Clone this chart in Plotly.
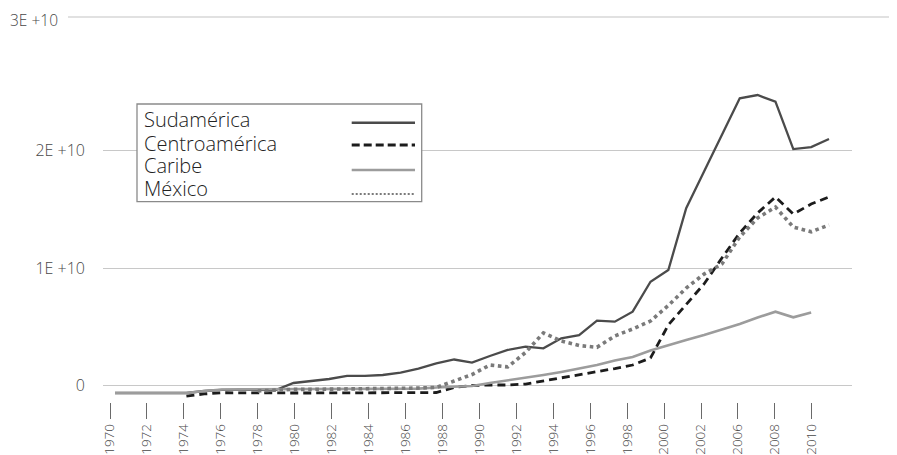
import plotly.graph_objects as go

years = list(range(1970, 2011))

# Values in billions (1e9)
sudamerica = [-0.62, -0.62, -0.62, -0.62, -0.62, -0.45, -0.35, -0.35, -0.35, -0.37,
              0.23, 0.37, 0.57, 0.83, 0.83, 0.91, 1.12, 1.46, 1.89, 2.23,
              1.97, 2.53, 3.04, 3.32, 3.18, 4.03, 4.31, 5.53, 5.45, 6.30,
              8.85, 9.85, 15.10, 18.23, 21.34, 24.46, 24.74, 24.17, 20.14, 20.31,
              21.00]
centroamerica = [None, None, None, None, -0.88, -0.70, -0.60, -0.62, -0.62, -0.62,
                 -0.62, -0.62, -0.62, -0.62, -0.62, -0.62, -0.62, -0.62, -0.58, -0.15,
                 0.02, 0.06, 0.06, 0.14, 0.40, 0.70, 0.90, 1.17, 1.46, 1.76,
                 2.36, 5.17, 6.87, 8.66, 10.87, 13.00, 14.70, 16.06, 14.60, 15.46,
                 16.06]
caribe = [-0.62, -0.62, -0.62, -0.62, -0.62, -0.45, -0.32, -0.31, -0.31, -0.30,
          -0.30, -0.29, -0.29, -0.28, -0.28, -0.27, -0.27, -0.25, -0.15, -0.07,
          -0.02, 0.23, 0.44, 0.68, 0.91, 1.17, 1.46, 1.76, 2.14, 2.44,
          3.00, 3.46, 3.89, 4.31, 4.78, 5.25, 5.80, 6.30, 5.82, 6.23,
          None]
mexico = [None, None, None, None, None, None, None, None, -0.45, -0.37,
          -0.31, -0.31, -0.28, -0.24, -0.22, -0.22, -0.22, -0.20, -0.15, 0.40,
          0.95, 1.76, 1.60, 2.83, 4.49, 3.80, 3.42, 3.27, 4.23, 4.83,
          5.50, 6.83, 8.31, 9.50, 10.36, 12.66, 14.27, 15.20, 13.50, 13.10,
          13.68]

series_names = ["Sudamérica", "Centroamérica", "Caribe", "México"]
series_values = [sudamerica, centroamerica, caribe, mexico]
series_colors = ["#4b4b4b", "#1c1c1c", "#9c9c9c", "#7a7a7a"]
series_widths = [2.3, 2.8, 2.6, 3.6]
series_dash = ["solid", "8px,5px", "solid", "dot"]
legend_widths = [2.6, 3.0, 2.6, 1.8]
legend_dash = ["solid", "8px,4px", "solid", "2px,2px"]

x_tick_labels = ["1970", "1972", "1974", "1976", "1978", "1980", "1982", "1984",
                 "1986", "1988", "1990", "1992", "1994", "1996", "1998", "2000",
                 "2002", "2006", "2008", "2010"]
y_tick_vals = [0, 1e10, 2e10]
y_tick_text = ["0", "1E +10", "2E +10"]
top_label = "3E +10"

FONT = "Open Sans"
TICK_COLOR = "#474747"
OFF = 8                       # page offset of the figure inside the window
SW, SH = 897, 455             # window size
W, H = SW - OFF, SH - OFF
PLOT_L, PLOT_R, PLOT_T, PLOT_B = 103, 852, 17, 402   # plot area in window pixels
ML, MR, MT, MB = PLOT_L - OFF, SW - PLOT_R, PLOT_T - OFF, SH - PLOT_B
PW = PLOT_R - PLOT_L
PH = PLOT_B - PLOT_T

# horizontal scale: data years and tick label slots (window pixels)
px_per_year = 17.85
x0_px = 115.0           # pixel of 1970 data point
tick0_px, tick_step = 110.0, 36.94

def px_to_year(px):
    return 1970 + (px - x0_px) / px_per_year

x_range = [px_to_year(PLOT_L), px_to_year(PLOT_R)]
tick_vals = [px_to_year(tick0_px + tick_step * k) for k in range(len(x_tick_labels))]

# vertical scale
zero_py = 385.7
px_per_unit = 117.5 / 1e10
y_range = [-(PLOT_B - zero_py) / px_per_unit, (zero_py - PLOT_T) / px_per_unit]

fig = go.Figure()
for name, vals, col, w, d in zip(series_names, series_values, series_colors, series_widths, series_dash):
    fig.add_trace(go.Scatter(
        x=years, y=[None if v is None else v * 1e9 for v in vals],
        mode="lines", name=name, line=dict(color=col, width=w, dash=d),
        connectgaps=False, showlegend=False))

shapes = []
annotations = []

def pxx(px):
    return (px - PLOT_L) / PW

def pyy(py):
    return (PLOT_B - py) / PH

# top gridline (labelled 3E+10), drawn beyond the plot like in the picture
shapes.append(dict(type="line", xref="paper", yref="paper", x0=pxx(68), x1=pxx(897),
                   y0=1, y1=1, line=dict(color="#c4c4c4", width=1.2)))
annotations.append(dict(text=top_label, xref="paper", yref="paper", x=pxx(9), y=pyy(20),
                        xanchor="left", yanchor="middle", showarrow=False, borderpad=0,
                        font=dict(family=FONT, size=15.5, color=TICK_COLOR, weight=300)))

# custom legend box: names on the left, line samples on the right
shapes.append(dict(type="rect", xref="paper", yref="paper", x0=pxx(137), x1=pxx(421.7),
                   y0=pyy(201.7), y1=pyy(104), line=dict(color="#8a8a8a", width=1.3),
                   fillcolor="white", layer="above"))
row_text_y = [120, 143, 165.5, 188]
row_line_y = [122.7, 145, 170, 194]
for i, name in enumerate(series_names):
    annotations.append(dict(text=name, xref="paper", yref="paper", x=pxx(143), y=pyy(row_text_y[i]),
                            xanchor="left", yanchor="middle", showarrow=False, borderpad=0,
                            font=dict(family=FONT, size=20, color="#222222", weight=300)))
    shapes.append(dict(type="line", xref="paper", yref="paper", x0=pxx(351.7), x1=pxx(415),
                       y0=pyy(row_line_y[i]), y1=pyy(row_line_y[i]), layer="above",
                       line=dict(color=series_colors[i], width=legend_widths[i], dash=legend_dash[i])))

fig.update_layout(
    width=W, height=H, margin=dict(l=ML, r=MR, t=MT, b=MB, pad=0),
    paper_bgcolor="white", plot_bgcolor="white",
    font=dict(family=FONT, size=15, color=TICK_COLOR, weight=300),
    showlegend=False, shapes=shapes, annotations=annotations,
    xaxis=dict(range=x_range, tickmode="array", tickvals=tick_vals, ticktext=x_tick_labels,
               tickangle=-90, ticks="outside", ticklen=15.6, tickwidth=1.3, tickcolor="#6a6a6a",
               ticklabelstandoff=0, showgrid=False, zeroline=False, showline=False,
               automargin=False,
               tickfont=dict(family=FONT, size=13.5, color=TICK_COLOR, weight=300)),
    yaxis=dict(range=y_range, tickmode="array", tickvals=y_tick_vals, ticktext=y_tick_text,
               showgrid=True, gridcolor="#c8c8c8", gridwidth=1.2, zeroline=False, showline=False,
               ticks="", ticklabelstandoff=17, automargin=False,
               tickfont=dict(family=FONT, size=16, color=TICK_COLOR, weight=300)),
)

fig.write_html("out.html")
